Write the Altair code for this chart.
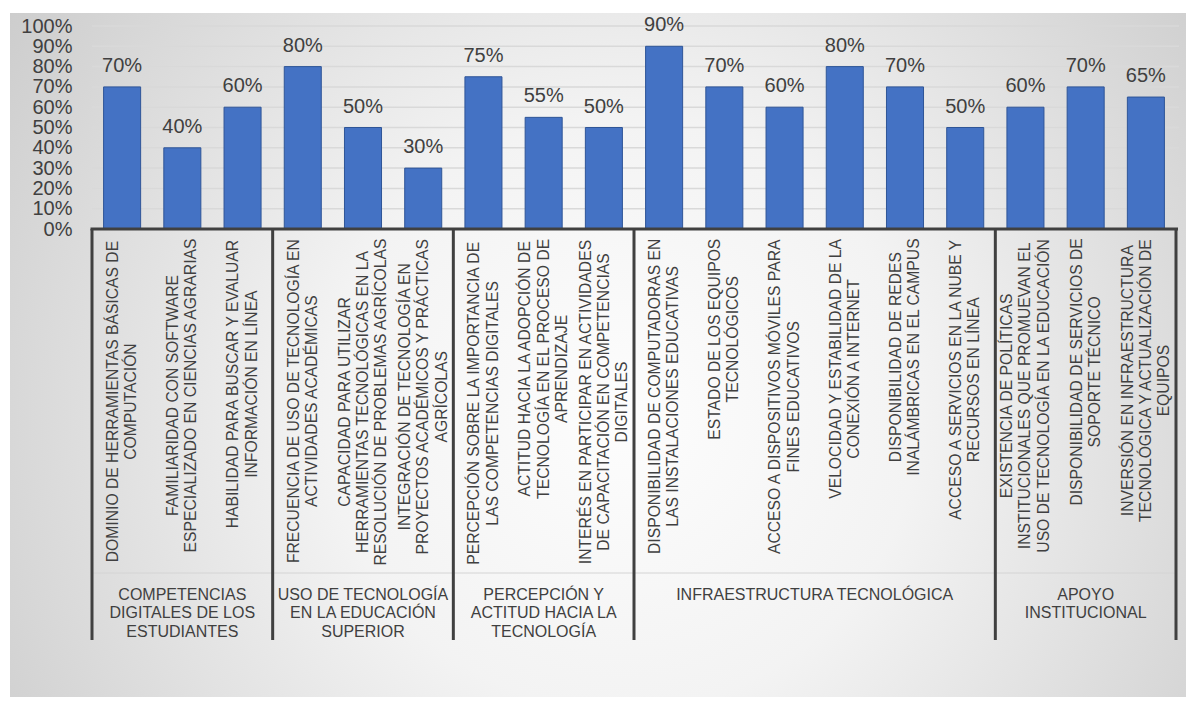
import altair as alt
import pandas as pd

# ---------------- data ----------------
groups = [
    "COMPETENCIAS\nDIGITALES DE LOS\nESTUDIANTES",
    "USO DE TECNOLOGÍA\nEN LA EDUCACIÓN\nSUPERIOR",
    "PERCEPCIÓN Y\nACTITUD HACIA LA\nTECNOLOGÍA",
    "INFRAESTRUCTURA TECNOLÓGICA",
    "APOYO\nINSTITUCIONAL",
]
group_sizes = [3, 3, 3, 6, 3]

items = [
    "DOMINIO  DE HERRAMIENTAS BÁSICAS DE\nCOMPUTACIÓN",
    "FAMILIARIDAD CON SOFTWARE\nESPECIALIZADO EN CIENCIAS AGRARIAS",
    "HABILIDAD PARA BUSCAR Y EVALUAR\nINFORMACIÓN EN LÍNEA",
    "FRECUENCIA DE USO DE TECNOLOGÍA EN\nACTIVIDADES ACADÉMICAS",
    "CAPACIDAD PARA UTILIZAR\nHERRAMIENTAS TECNOLÓGICAS EN LA\nRESOLUCIÓN DE PROBLEMAS AGRÍCOLAS",
    "INTEGRACIÓN DE TECNOLOGÍA EN\nPROYECTOS ACADÉMICOS Y PRÁCTICAS\nAGRÍCOLAS",
    "PERCEPCIÓN SOBRE  LA IMPORTANCIA DE\nLAS COMPETENCIAS DIGITALES",
    "ACTITUD HACIA LA ADOPCIÓN DE\nTECNOLOGÍA EN EL PROCESO DE\nAPRENDIZAJE",
    "INTERÉS EN PARTICIPAR EN ACTIVIDADES\nDE CAPACITACIÓN EN COMPETENCIAS\nDIGITALES",
    "DISPONIBILIDAD DE COMPUTADORAS EN\nLAS INSTALACIONES EDUCATIVAS",
    "ESTADO DE LOS EQUIPOS\nTECNOLÓGICOS",
    "ACCESO A DISPOSITIVOS MÓVILES PARA\nFINES EDUCATIVOS",
    "VELOCIDAD Y ESTABILIDAD DE LA\nCONEXIÓN A INTERNET",
    "DISPONIBILIDAD DE REDES\nINALÁMBRICAS EN EL CAMPUS",
    "ACCESO A SERVICIOS EN LA NUBE Y\nRECURSOS EN LÍNEA",
    "EXISTENCIA DE POLÍTICAS\nINSTITUCIONALES QUE PROMUEVAN EL\nUSO DE TECNOLOGÍA EN LA EDUCACIÓN",
    "DISPONIBILIDAD DE SERVICIOS DE\nSOPORTE TÉCNICO",
    "INVERSIÓN EN INFRAESTRUCTURA\nTECNOLÓGICA Y ACTUALIZACIÓN DE\nEQUIPOS",
]
values = [0.70, 0.40, 0.60, 0.80, 0.50, 0.30, 0.75, 0.55, 0.50,
          0.90, 0.70, 0.60, 0.80, 0.70, 0.50, 0.60, 0.70, 0.65]
y_ticks = [0.0, 0.1, 0.2, 0.3, 0.4, 0.5, 0.6, 0.7, 0.8, 0.9, 1.0]

# ---------------- style / layout ----------------
FONT = "Liberation Sans"
TXT = "#404040"
W = 1084        # plot width
H = 671         # full view height (plot + category area)
PLOT_H = 203    # bar area height
ITEM_SIZE = 15.7
ITEM_LH = 18.3
ITEM_TOP = 212

ARIAL = {" ": 278, "A": 667, "B": 667, "C": 722, "D": 722, "E": 667, "F": 611,
         "G": 778, "H": 722, "I": 278, "J": 500, "K": 667, "L": 556, "M": 833,
         "N": 722, "O": 778, "P": 667, "Q": 778, "R": 722, "S": 667, "T": 611,
         "U": 722, "V": 667, "W": 944, "X": 667, "Y": 667, "Z": 611,
         "Á": 667, "É": 667, "Í": 278, "Ó": 778, "Ú": 722, "Ñ": 722}


def text_w(s, size):
    return sum(ARIAL.get(c, 667) for c in s) / 1000 * size


n = len(items)
bars_df = pd.DataFrame({"k": list(range(n)), "item": items, "value": values})
bars_df["ypix"] = [ITEM_TOP + max(text_w(l, ITEM_SIZE) for l in s.split("\n")) / 2
                   for s in items]
bars_df["nlines"] = [len(s.split("\n")) for s in items]

bounds = [0]
for s in group_sizes:
    bounds.append(bounds[-1] + s)
grp_df = pd.DataFrame({"group": groups,
                       "center": [(bounds[i] + bounds[i + 1]) / 2 for i in range(len(groups))]})
sep_df = pd.DataFrame({"pos": bounds})
grid_df = pd.DataFrame({"v": y_ticks})

yscale = alt.Scale(domain=[0, 1], range=[PLOT_H, 0], nice=False)
xband = alt.Scale(domain=list(range(n)), paddingInner=0.385, paddingOuter=0.1925)
xq = alt.Scale(domain=[0, n], nice=False, zero=False)
ypix_scale = alt.Scale(domain=[0, H], range=[0, H], nice=False, zero=False)

gradient = {
    "gradient": "radial",
    "x1": 0.52, "y1": 0.55, "r1": 0,
    "x2": 0.52, "y2": 0.55, "r2": 0.72,
    "stops": [
        {"offset": 0, "color": "#fdfdfd"},
        {"offset": 0.35, "color": "#f3f3f3"},
        {"offset": 1, "color": "#c3c3c3"},
    ],
}

background = alt.Chart(pd.DataFrame({"a": [0]})).mark_rect(fill=gradient).encode(
    x=alt.value(-82), x2=alt.value(W + 10), y=alt.value(-13), y2=alt.value(H)
)

grid = alt.Chart(grid_df).mark_rule(color="#d9d9d9", strokeWidth=1.5).encode(
    y=alt.Y("v:Q", scale=yscale, axis=None),
    x=alt.value(0), x2=alt.value(W + 3),
)

bars = alt.Chart(bars_df).mark_bar(color="#4472C4", stroke="#2F5597", strokeWidth=1).encode(
    x=alt.X("k:O", scale=xband, axis=None),
    y=alt.Y("value:Q", scale=yscale,
            axis=alt.Axis(values=y_ticks, format=".0%", labelFontSize=20, labelFont=FONT,
                          labelColor=TXT, domain=False, ticks=False, tickSize=0,
                          labelPadding=20, grid=False, title=None, zindex=1)),
)

bar_labels = alt.Chart(bars_df).mark_text(
    baseline="alphabetic", dy=-15, fontSize=20, font=FONT, color=TXT
).encode(
    x=alt.X("k:O", scale=xband, axis=None),
    y=alt.Y("value:Q", scale=yscale, axis=None),
    text=alt.Text("value:Q", format=".0%"),
)


def item_layer(lines):
    return alt.Chart(bars_df).transform_filter(
        alt.datum.nlines == lines
    ).mark_text(
        angle=270, align="center", baseline="middle", lineBreak="\n",
        dy=-(lines - 1) * ITEM_LH / 2,
        fontSize=ITEM_SIZE, lineHeight=ITEM_LH, font=FONT, color=TXT
    ).encode(
        x=alt.X("k:O", scale=xband, axis=None),
        y=alt.Y("ypix:Q", scale=ypix_scale, axis=None),
        text="item:N",
    )


item_labels2 = item_layer(2)
item_labels3 = item_layer(3)

level_line = alt.Chart(pd.DataFrame({"a": [0]})).mark_rule(color="#d4d4d4", strokeWidth=1).encode(
    x=alt.value(0), x2=alt.value(W), y=alt.value(547)
)

axis_line = alt.Chart(pd.DataFrame({"a": [0]})).mark_rule(color=TXT, strokeWidth=3).encode(
    x=alt.value(-1.5), x2=alt.value(W + 2), y=alt.value(PLOT_H)
)

separators = alt.Chart(sep_df).mark_rule(color=TXT, strokeWidth=3).encode(
    x=alt.X("pos:Q", scale=xq, axis=None),
    y=alt.value(PLOT_H), y2=alt.value(614),
)

group_labels = alt.Chart(grp_df).mark_text(
    align="center", baseline="alphabetic", lineBreak="\n",
    fontSize=16, lineHeight=18.3, font=FONT, color=TXT
).encode(
    x=alt.X("center:Q", scale=xq, axis=None),
    y=alt.value(574),
    text="group:N",
)

chart = alt.layer(
    background, grid, bars, bar_labels, item_labels2, item_labels3, level_line,
    axis_line, separators, group_labels
).resolve_scale(
    x="independent", y="independent"
).properties(
    width=W, height=H,
    autosize=alt.AutoSizeParams(type="none"),
    padding={"left": 84, "top": 18, "right": 10, "bottom": 0},
).configure_view(strokeWidth=0)

chart.save("out.html", embed_options={"renderer": "svg", "actions": False})
